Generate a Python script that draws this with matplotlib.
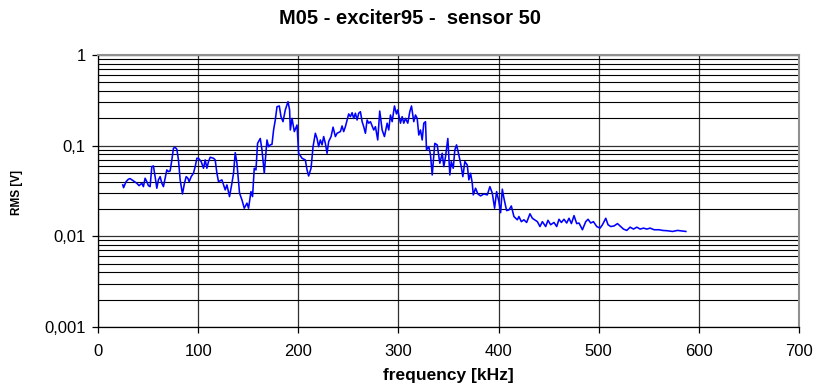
import matplotlib
matplotlib.use("Agg")
import matplotlib.pyplot as plt
from matplotlib.ticker import FixedLocator, NullFormatter

# Spectrum: frequency (kHz) and RMS amplitude (V)
freq_khz = [
    24.7, 25.5, 28.0, 30.3, 32.0, 35.0, 38.7, 41.0, 43.7, 45.3, 47.0, 48.7, 50.3, 52.0,
    53.7, 55.3, 57.0, 58.7, 60.3, 62.0, 63.7, 65.3, 67.0, 68.7, 70.3, 72.0, 73.7, 75.3,
    77.0, 78.7, 80.3, 82.0, 84.3, 86.3, 88.0, 89.7, 91.0, 93.0, 95.3, 97.0, 98.7, 100.3,
    103.0, 105.3, 107.0, 108.7, 110.3, 112.0, 115.3, 117.0, 118.7, 120.3, 123.7, 127.0,
    128.7, 131.3, 133.7, 135.3, 137.0, 138.7, 141.3, 143.7, 146.0, 148.7, 150.3, 152.7,
    154.3, 156.0, 157.7, 159.3, 162.0, 163.7, 166.0, 168.7, 170.3, 172.0, 173.7, 175.3,
    177.0, 178.7, 181.0, 182.7, 184.7, 187.0, 189.7, 191.3, 192.0, 193.7, 196.0, 198.7,
    200.3, 203.7, 207.0, 208.7, 210.3, 212.7, 214.7, 217.0, 218.7, 220.3, 222.0, 223.7,
    225.3, 227.0, 228.7, 230.3, 232.7, 234.7, 237.0, 238.7, 242.0, 243.7, 245.3, 247.0,
    250.3, 252.0, 253.7, 255.3, 257.0, 258.7, 260.3, 262.0, 263.7, 265.3, 267.0, 268.7,
    270.3, 272.0, 275.3, 277.0, 279.3, 281.3, 283.7, 286.0, 288.7, 290.3, 292.0, 293.7,
    296.0, 298.0, 299.3, 302.0, 303.7, 305.3, 307.0, 309.3, 311.3, 313.0, 315.3, 317.0,
    318.7, 320.3, 322.0, 323.7, 325.3, 327.0, 328.0, 330.3, 332.0, 333.7, 336.3, 338.7,
    341.3, 343.7, 345.3, 347.0, 349.3, 351.3, 352.7, 354.7, 356.3, 358.0, 360.3, 362.7,
    364.3, 366.3, 368.7, 370.3, 372.0, 373.7, 374.7, 377.0, 379.3, 382.0, 385.3, 388.7,
    391.3, 393.7, 396.0, 398.0, 400.3, 402.0, 403.7, 405.3, 408.0, 410.3, 412.7, 415.3,
    418.7, 420.3, 422.7, 425.3, 428.0, 431.3, 433.7, 436.0, 438.7, 441.3, 443.7, 447.0,
    449.3, 452.0, 455.3, 458.0, 460.3, 462.7, 465.3, 468.0, 470.3, 472.7, 475.3, 478.0,
    480.3, 483.7, 487.0, 489.3, 492.0, 494.7, 498.0, 501.3, 503.7, 507.0, 509.3, 512.0,
    515.3, 518.7, 522.0, 524.7, 528.0, 531.3, 534.7, 538.0, 541.3, 544.7, 548.0, 551.3,
    555.3, 560.3, 563.7, 568.7, 573.7, 578.7, 583.7, 587.0,
]
rms_v = [
    0.0369, 0.0344, 0.0401, 0.0426, 0.0433, 0.0411, 0.0385, 0.0362, 0.0385, 0.0353, 0.0437, 0.0401, 0.0362, 0.0353,
    0.0587, 0.0597, 0.0455, 0.0339, 0.0419, 0.0455, 0.0385, 0.0353, 0.0437, 0.0540, 0.0517, 0.0526, 0.0696, 0.0936,
    0.0960, 0.0912, 0.0696, 0.0419, 0.0293, 0.0385, 0.0455, 0.0437, 0.0401, 0.0455, 0.0496, 0.0587, 0.0726, 0.0726,
    0.0667, 0.0563, 0.0696, 0.0563, 0.0667, 0.0745, 0.0726, 0.0696, 0.0496, 0.0401, 0.0419, 0.0325,
    0.0369, 0.0274, 0.0385, 0.0496, 0.0837, 0.0640, 0.0299, 0.0252, 0.0204, 0.0232, 0.0204, 0.0311,
    0.0274, 0.0563, 0.0540, 0.106, 0.120, 0.0897, 0.0496, 0.1156, 0.0975, 0.102, 0.1036, 0.149,
    0.192, 0.269, 0.274, 0.209, 0.184, 0.248, 0.306, 0.248, 0.149, 0.200, 0.143, 0.169,
    0.0824, 0.0726, 0.0696, 0.0540, 0.0463, 0.0563, 0.0975, 0.137, 0.120, 0.0975, 0.1156, 0.102,
    0.126, 0.106, 0.0824, 0.111, 0.126, 0.160, 0.126, 0.137, 0.143, 0.165, 0.143, 0.162,
    0.224, 0.209, 0.231, 0.200, 0.228, 0.192, 0.228, 0.237, 0.184, 0.162, 0.137, 0.192,
    0.177, 0.184, 0.149, 0.162, 0.1156, 0.241, 0.149, 0.126, 0.177, 0.149, 0.218, 0.184,
    0.274, 0.224, 0.248, 0.177, 0.209, 0.177, 0.200, 0.177, 0.237, 0.274, 0.184, 0.218,
    0.200, 0.131, 0.149, 0.1156, 0.177, 0.184, 0.0897, 0.0975, 0.0789, 0.0475, 0.106, 0.102,
    0.0640, 0.0824, 0.0587, 0.0757, 0.120, 0.0475, 0.0667, 0.0563, 0.0897, 0.102, 0.0789, 0.0587,
    0.0455, 0.0667, 0.0612, 0.0419, 0.0496, 0.0385, 0.0286, 0.0339, 0.0293, 0.0279, 0.0293, 0.0286,
    0.0353, 0.0299, 0.0204, 0.0311, 0.0241, 0.0182, 0.0331, 0.0263, 0.0192, 0.0195, 0.0216, 0.0165,
    0.0152, 0.0165, 0.0145, 0.0152, 0.0142, 0.0177, 0.0158, 0.0152, 0.0145, 0.0128, 0.0145, 0.0128,
    0.0150, 0.0134, 0.0142, 0.0128, 0.0154, 0.0142, 0.0154, 0.0140, 0.0158, 0.0138, 0.0169, 0.0138,
    0.0140, 0.0118, 0.0145, 0.0154, 0.0140, 0.0145, 0.0128, 0.0123, 0.0134, 0.0158, 0.0134, 0.0128,
    0.0130, 0.0138, 0.0128, 0.0120, 0.0116, 0.0126, 0.0120, 0.0126, 0.0120, 0.0123, 0.0120, 0.0123,
    0.0118, 0.0118, 0.0116, 0.0115, 0.0113, 0.0116, 0.0114, 0.0113,
]

x_ticks = [0, 100, 200, 300, 400, 500, 600, 700]
y_ticks = [0.001, 0.01, 0.1, 1]
y_tick_labels = ["0,001", "0,01", "0,1", "1"]

title = "M05 - exciter95 -  sensor 50"
x_label = "frequency [kHz]"
y_label = "RMS [V]"

plt.rcParams["font.family"] = ["Liberation Sans", "DejaVu Sans"]

fig = plt.figure(figsize=(8.17, 3.85), dpi=100)
ax = fig.add_axes([0.120, 0.151, 0.858, 0.706])

ax.plot(freq_khz, rms_v, color="#0000FF", lw=1.15, zorder=3)

ax.set_yscale("log")
ax.set_xlim(0, 700)
ax.set_ylim(0.001, 1)

ax.xaxis.set_major_locator(FixedLocator(x_ticks))
ax.yaxis.set_major_locator(FixedLocator(y_ticks))
minor_y = [m * 10.0 ** e for e in (-3, -2, -1) for m in range(2, 10)]
ax.yaxis.set_minor_locator(FixedLocator(minor_y))
ax.yaxis.set_minor_formatter(NullFormatter())
ax.set_yticklabels(y_tick_labels)
ax.set_xticklabels([str(t) for t in x_ticks])

ax.grid(which="major", axis="both", color="#303030", lw=0.9)
ax.grid(which="minor", axis="y", color="#000000", lw=0.8)

ax.tick_params(axis="both", which="major", direction="out", length=4,
               width=0.9, labelsize=12, colors="#000000")
ax.tick_params(axis="x", which="major", pad=8)
ax.tick_params(axis="y", which="major", pad=5)
ax.tick_params(axis="y", which="minor", length=0)

for side in ("left", "bottom"):
    ax.spines[side].set_color("#000000")
    ax.spines[side].set_linewidth(0.9)
for side in ("top", "right"):
    ax.spines[side].set_color("#909090")
    ax.spines[side].set_linewidth(1.5)

fig.text(0.502, 0.953, title, ha="center", va="center",
         fontsize=14.5, fontweight="bold")
ax.set_xlabel(x_label, fontsize=12.5, fontweight="bold", labelpad=7)
fig.text(0.021, 0.5, y_label, rotation=90, ha="center", va="center",
         fontsize=8.5, fontweight="bold")

fig.savefig("out.png", dpi=100)
